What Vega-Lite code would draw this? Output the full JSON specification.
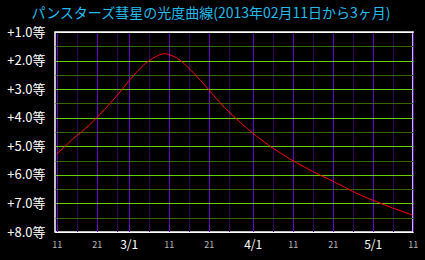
{
  "$schema": "https://vega.github.io/schema/vega-lite/v6.json",
  "width": 358,
  "height": 200,
  "autosize": "none",
  "padding": {"left": 55, "top": 32, "right": 12, "bottom": 28},
  "background": "black",
  "title": {
    "text": "パンスターズ彗星の光度曲線(2013年02月11日から3ヶ月)",
    "color": "#22bbee",
    "font": "Noto Sans CJK JP",
    "fontSize": 14,
    "fontWeight": "normal",
    "anchor": "middle",
    "dx": -23,
    "offset": 5
  },
  "data": {
    "values": [
      {"date": "2013-02-11", "mag": 5.27},
      {"date": "2013-02-13", "mag": 5.02},
      {"date": "2013-02-15", "mag": 4.74},
      {"date": "2013-02-17", "mag": 4.52},
      {"date": "2013-02-19", "mag": 4.28},
      {"date": "2013-02-21", "mag": 4.0},
      {"date": "2013-02-23", "mag": 3.71},
      {"date": "2013-02-25", "mag": 3.4},
      {"date": "2013-02-27", "mag": 3.07},
      {"date": "2013-03-01", "mag": 2.72},
      {"date": "2013-03-03", "mag": 2.4},
      {"date": "2013-03-05", "mag": 2.12},
      {"date": "2013-03-07", "mag": 1.92},
      {"date": "2013-03-09", "mag": 1.78},
      {"date": "2013-03-10", "mag": 1.76},
      {"date": "2013-03-11", "mag": 1.78},
      {"date": "2013-03-13", "mag": 1.9},
      {"date": "2013-03-15", "mag": 2.12},
      {"date": "2013-03-17", "mag": 2.4},
      {"date": "2013-03-19", "mag": 2.7},
      {"date": "2013-03-21", "mag": 3.02},
      {"date": "2013-03-23", "mag": 3.34},
      {"date": "2013-03-25", "mag": 3.65},
      {"date": "2013-03-27", "mag": 3.92},
      {"date": "2013-03-29", "mag": 4.18},
      {"date": "2013-03-31", "mag": 4.42},
      {"date": "2013-04-02", "mag": 4.65},
      {"date": "2013-04-04", "mag": 4.86},
      {"date": "2013-04-06", "mag": 5.06},
      {"date": "2013-04-08", "mag": 5.24},
      {"date": "2013-04-10", "mag": 5.42},
      {"date": "2013-04-12", "mag": 5.58},
      {"date": "2013-04-14", "mag": 5.73},
      {"date": "2013-04-16", "mag": 5.88},
      {"date": "2013-04-18", "mag": 6.02},
      {"date": "2013-04-20", "mag": 6.15},
      {"date": "2013-04-22", "mag": 6.29},
      {"date": "2013-04-24", "mag": 6.43},
      {"date": "2013-04-26", "mag": 6.58},
      {"date": "2013-04-28", "mag": 6.71},
      {"date": "2013-04-30", "mag": 6.83},
      {"date": "2013-05-02", "mag": 6.94},
      {"date": "2013-05-04", "mag": 7.05},
      {"date": "2013-05-06", "mag": 7.16},
      {"date": "2013-05-08", "mag": 7.26},
      {"date": "2013-05-10", "mag": 7.36},
      {"date": "2013-05-11", "mag": 7.41}
    ]
  },
  "mark": {"type": "line", "color": "#ff0000", "strokeWidth": 1},
  "encoding": {
    "x": {
      "field": "date",
      "type": "temporal",
      "scale": {
        "type": "utc",
        "domain": [
          {"year": 2013, "month": 2, "date": 10, "hours": 14, "utc": true},
          {"year": 2013, "month": 5, "date": 11, "hours": 2, "utc": true}
        ]
      },
      "axis": {
        "values": [
          {"year": 2013, "month": 2, "date": 11, "utc": true},
          {"year": 2013, "month": 2, "date": 16, "utc": true},
          {"year": 2013, "month": 2, "date": 21, "utc": true},
          {"year": 2013, "month": 2, "date": 26, "utc": true},
          {"year": 2013, "month": 3, "date": 1, "utc": true},
          {"year": 2013, "month": 3, "date": 6, "utc": true},
          {"year": 2013, "month": 3, "date": 11, "utc": true},
          {"year": 2013, "month": 3, "date": 16, "utc": true},
          {"year": 2013, "month": 3, "date": 21, "utc": true},
          {"year": 2013, "month": 3, "date": 26, "utc": true},
          {"year": 2013, "month": 4, "date": 1, "utc": true},
          {"year": 2013, "month": 4, "date": 6, "utc": true},
          {"year": 2013, "month": 4, "date": 11, "utc": true},
          {"year": 2013, "month": 4, "date": 16, "utc": true},
          {"year": 2013, "month": 4, "date": 21, "utc": true},
          {"year": 2013, "month": 4, "date": 26, "utc": true},
          {"year": 2013, "month": 5, "date": 1, "utc": true},
          {"year": 2013, "month": 5, "date": 6, "utc": true},
          {"year": 2013, "month": 5, "date": 11, "utc": true}
        ],
        "title": null,
        "ticks": false,
        "domain": false,
        "labelExpr": "utcdate(datum.value) == 1 ? (utcmonth(datum.value) + 1) + '/1' : (utcdate(datum.value) % 10 == 1 ? '' + utcdate(datum.value) : '')",
        "labelColor": {"condition": {"test": "utcdate(datum.value) == 1", "value": "#ffffff"}, "value": "#bbbbbb"},
        "labelFontSize": {"condition": {"test": "utcdate(datum.value) == 1", "value": 12}, "value": 9},
        "gridColor": {"condition": {"test": "utcdate(datum.value) % 10 == 1", "value": "#6600cc"}, "value": "#330066"},
        "gridOpacity": 1,
        "labelFlush": false,
        "labelOverlap": false,
        "labelBound": false,
        "labelPadding": 12,
        "labelBaseline": "middle",
        "labelFont": "Noto Sans CJK JP"
      }
    },
    "y": {
      "field": "mag",
      "type": "quantitative",
      "scale": {"domain": [1, 8], "reverse": true, "nice": false, "zero": false},
      "axis": {
        "values": [1, 1.5, 2, 2.5, 3, 3.5, 4, 4.5, 5, 5.5, 6, 6.5, 7, 7.5, 8],
        "title": null,
        "ticks": false,
        "domain": false,
        "labelExpr": "datum.value % 1 == 0 ? '+' + format(datum.value, '.1f') + '等' : ''",
        "labelColor": "#ffffff",
        "labelFontSize": 13,
        "labelFont": "Noto Sans CJK JP",
        "labelPadding": 10,
        "labelBaseline": "middle",
        "labelFlush": false,
        "labelOverlap": false,
        "labelBound": false,
        "gridColor": {
          "condition": [
            {"test": "datum.value == 1 || datum.value == 8", "value": "#ffffff"},
            {"test": "datum.value % 1 == 0", "value": "#66cc00"}
          ],
          "value": "#336600"
        },
        "gridOpacity": 1
      }
    }
  },
  "config": {
    "view": {"stroke": "#ffffff", "strokeWidth": 1.5}
  }
}
